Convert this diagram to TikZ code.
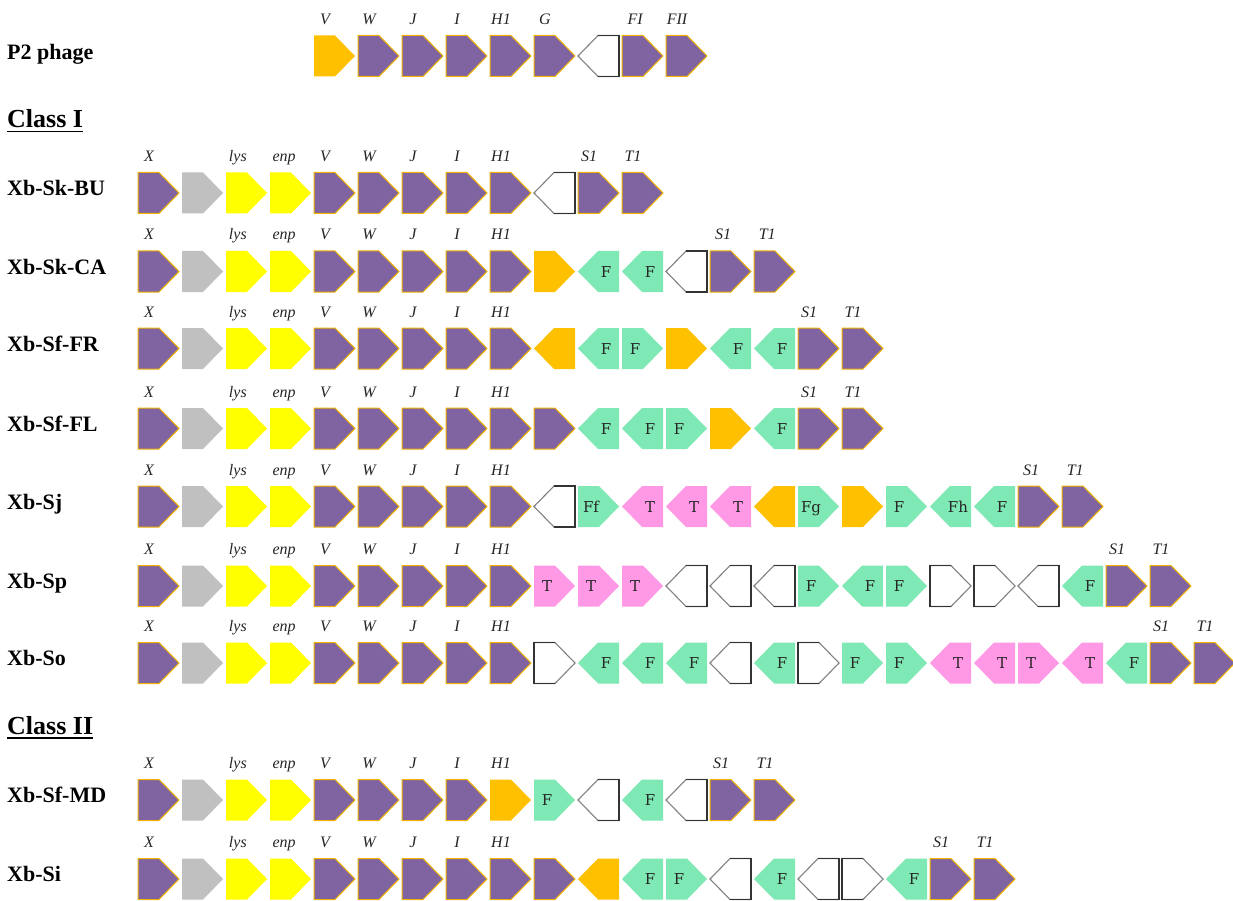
\documentclass[tikz,border=0pt]{standalone}
\usepackage{fontspec}
\setmainfont{Liberation Serif}
\newfontfamily\boxfont{DejaVu Serif}
\definecolor{cPu}{HTML}{8064A2}
\definecolor{cOr}{HTML}{FFC000}
\definecolor{cEdge}{HTML}{F2B300}
\definecolor{cGy}{HTML}{C0C0C0}
\definecolor{cYe}{HTML}{FFFF00}
\definecolor{cGn}{HTML}{7FE9B5}
\definecolor{cPk}{HTML}{FF99E6}
\definecolor{cWg}{HTML}{808080}
\definecolor{cWd}{HTML}{333333}
\tikzset{
  pur/.style={fill=cPu, draw=cEdge, line width=1pt},
  ora/.style={fill=cOr},
  gry/.style={fill=cGy},
  yel/.style={fill=cYe},
  grn/.style={fill=cGn},
  pnk/.style={fill=cPk},
  wht/.style={fill=white, draw=cWg, line width=1.1pt},
  wdark/.style={draw=cWd, line width=1.1pt},
  intext/.style={font=\boxfont\fontsize{15}{15}\selectfont, text=black!85, anchor=base, inner sep=0pt},
  genelab/.style={font=\itshape\fontsize{16}{16}\selectfont, anchor=base, inner sep=0pt, text=black!85},
  rowlab/.style={font=\bfseries\fontsize{22}{22}\selectfont, anchor=base west, inner sep=0pt},
  classlab/.style={font=\bfseries\fontsize{26}{26}\selectfont, anchor=base west, inner sep=0pt},
}
\newcommand\gpset[1]{\pgfmathsetmacro\gpos{138+44*#1}}
\newcommand\gR[3]{\gpset{#2}\path[#3] (\gpos,#1-20.5) -- ++(21,0) -- ++(20,20.5) -- ++(-20,20.5) -- ++(-21,0) -- cycle;}
\newcommand\gL[3]{\gpset{#2}\path[#3] (\gpos+41,#1-20.5) -- ++(-21,0) -- ++(-20,20.5) -- ++(20,20.5) -- ++(21,0) -- cycle;}
\newcommand\wR[2]{\gR{#1}{#2}{wht}\gpset{#2}\path[wdark] (\gpos+21,#1-20.5) -- (\gpos,#1-20.5) -- (\gpos,#1+20.5) -- (\gpos+21,#1+20.5);}
\newcommand\wL[2]{\gL{#1}{#2}{wht}\gpset{#2}\path[wdark] (\gpos+20,#1-20.5) -- (\gpos+41,#1-20.5) -- (\gpos+41,#1+20.5) -- (\gpos+20,#1+20.5);}
\newcommand\tR[3]{\gpset{#2}\node[intext] at (\gpos+13,#1+5.5) {#3};}
\newcommand\tL[3]{\gpset{#2}\node[intext] at (\gpos+28,#1+5.5) {#3};}
\newcommand\lb[3]{\gpset{#2}\node[genelab] at (\gpos+11,#1-31.5) {#3};}
\newcommand\prefix[2]{%
  \gR{#1}{0}{pur}\gR{#1}{1}{gry}\gR{#1}{2}{yel}\gR{#1}{3}{yel}%
  \gR{#1}{4}{pur}\gR{#1}{5}{pur}\gR{#1}{6}{pur}\gR{#1}{7}{pur}\gR{#1}{8}{#2}%
  \lb{#1}{0}{X}\lb{#1}{2.02}{lys}\lb{#1}{3.07}{enp}\lb{#1}{4}{V}\lb{#1}{5}{W}%
  \lb{#1}{6}{J}\lb{#1}{7}{I}\lb{#1}{8}{H1}}
\begin{document}
\begin{tikzpicture}[x=1pt,y=-1pt]
\useasboundingbox (0,0) rectangle (1233,901);
\fill[white] (0,0) rectangle (1233,901);

% P2 phage
\node[rowlab] (p2) at (7,60) {P2 phage};
\gR{56}{4}{ora}\gR{56}{5}{pur}\gR{56}{6}{pur}\gR{56}{7}{pur}\gR{56}{8}{pur}\gR{56}{9}{pur}
\wL{56}{10}\gR{56}{11}{pur}\gR{56}{12}{pur}
\lb{56}{4}{V}\lb{56}{5}{W}\lb{56}{6}{J}\lb{56}{7}{I}\lb{56}{8}{H1}\lb{56}{9}{G}\lb{56}{11.05}{FI}\lb{56}{12}{FII}

% Class I
\node[classlab] (c1) at (7,128) {Class I};
\draw[line width=1.8pt] ([yshift=-3.5pt]c1.base west) -- ([yshift=-3.5pt]c1.base east);

% Xb-Sk-BU
\node[rowlab] (bu) at (7,195.5) {Xb-Sk-BU};
\prefix{193}{pur}
\wL{193}{9}\gR{193}{10}{pur}\gR{193}{11}{pur}
\lb{193}{10}{S1}\lb{193}{11}{T1}

% Xb-Sk-CA
\node[rowlab] (ca) at (7,274) {Xb-Sk-CA};
\prefix{271.5}{pur}
\gR{271.5}{9}{ora}\gL{271.5}{10}{grn}\tL{271.5}{10}{F}\gL{271.5}{11}{grn}\tL{271.5}{11}{F}
\wL{271.5}{12}\gR{271.5}{13}{pur}\gR{271.5}{14}{pur}
\lb{271.5}{13.05}{S1}\lb{271.5}{14.05}{T1}

% Xb-Sf-FR
\node[rowlab] (fr) at (7,351) {Xb-Sf-FR};
\prefix{348.5}{pur}
\gL{348.5}{9}{ora}\gL{348.5}{10}{grn}\tL{348.5}{10}{F}\gR{348.5}{11}{grn}\tR{348.5}{11}{F}
\gR{348.5}{12}{ora}\gL{348.5}{13}{grn}\tL{348.5}{13}{F}\gL{348.5}{14}{grn}\tL{348.5}{14}{F}
\gR{348.5}{15}{pur}\gR{348.5}{16}{pur}
\lb{348.5}{15}{S1}\lb{348.5}{16}{T1}

% Xb-Sf-FL
\node[rowlab] (fl) at (7,431) {Xb-Sf-FL};
\prefix{428.5}{pur}
\gR{428.5}{9}{pur}\gL{428.5}{10}{grn}\tL{428.5}{10}{F}\gL{428.5}{11}{grn}\tL{428.5}{11}{F}
\gR{428.5}{12}{grn}\tR{428.5}{12}{F}\gR{428.5}{13}{ora}\gL{428.5}{14}{grn}\tL{428.5}{14}{F}
\gR{428.5}{15}{pur}\gR{428.5}{16}{pur}
\lb{428.5}{15}{S1}\lb{428.5}{16}{T1}

% Xb-Sj
\node[rowlab] (sj) at (7,509) {Xb-Sj};
\prefix{506.5}{pur}
\wL{506.5}{9}\gR{506.5}{10}{grn}\tR{506.5}{10}{Ff}
\gL{506.5}{11}{pnk}\tL{506.5}{11}{T}\gL{506.5}{12}{pnk}\tL{506.5}{12}{T}\gL{506.5}{13}{pnk}\tL{506.5}{13}{T}
\gL{506.5}{14}{ora}\gR{506.5}{15}{grn}\tR{506.5}{15}{Fg}\gR{506.5}{16}{ora}
\gR{506.5}{17}{grn}\tR{506.5}{17}{F}\gL{506.5}{18}{grn}\tL{506.5}{18}{Fh}\gL{506.5}{19}{grn}\tL{506.5}{19}{F}
\gR{506.5}{20}{pur}\gR{506.5}{21}{pur}
\lb{506.5}{20.05}{S1}\lb{506.5}{21.05}{T1}

% Xb-Sp
\node[rowlab] (sp) at (7,588.5) {Xb-Sp};
\prefix{586}{pur}
\gR{586}{9}{pnk}\tR{586}{9}{T}\gR{586}{10}{pnk}\tR{586}{10}{T}\gR{586}{11}{pnk}\tR{586}{11}{T}
\wL{586}{12}\wL{586}{13}\wL{586}{14}
\gR{586}{15}{grn}\tR{586}{15}{F}\gL{586}{16}{grn}\tL{586}{16}{F}\gR{586}{17}{grn}\tR{586}{17}{F}
\wR{586}{18}\wR{586}{19}\wL{586}{20}
\gL{586}{21}{grn}\tL{586}{21}{F}\gR{586}{22}{pur}\gR{586}{23}{pur}
\lb{586}{22}{S1}\lb{586}{23}{T1}

% Xb-So
\node[rowlab] (so) at (7,665.5) {Xb-So};
\prefix{663}{pur}
\wR{663}{9}\gL{663}{10}{grn}\tL{663}{10}{F}\gL{663}{11}{grn}\tL{663}{11}{F}\gL{663}{12}{grn}\tL{663}{12}{F}
\wL{663}{13}\gL{663}{14}{grn}\tL{663}{14}{F}\wR{663}{15}
\gR{663}{16}{grn}\tR{663}{16}{F}\gR{663}{17}{grn}\tR{663}{17}{F}
\gL{663}{18}{pnk}\tL{663}{18}{T}\gL{663}{19}{pnk}\tL{663}{19}{T}\gR{663}{20}{pnk}\tR{663}{20}{T}\gL{663}{21}{pnk}\tL{663}{21}{T}
\gL{663}{22}{grn}\tL{663}{22}{F}\gR{663}{23}{pur}\gR{663}{24}{pur}
\lb{663}{23}{S1}\lb{663}{24}{T1}

% Class II
\node[classlab] (c2) at (7,734.5) {Class II};
\draw[line width=1.8pt] ([yshift=-3.5pt]c2.base west) -- ([yshift=-3.5pt]c2.base east);

% Xb-Sf-MD
\node[rowlab] (md) at (7,802.5) {Xb-Sf-MD};
\prefix{800}{ora}
\gR{800}{9}{grn}\tR{800}{9}{F}\wL{800}{10}\gL{800}{11}{grn}\tL{800}{11}{F}\wL{800}{12}
\gR{800}{13}{pur}\gR{800}{14}{pur}
\lb{800}{13}{S1}\lb{800}{14}{T1}

% Xb-Si
\node[rowlab] (si) at (7,881.5) {Xb-Si};
\prefix{879}{pur}
\gR{879}{9}{pur}\gL{879}{10}{ora}\gL{879}{11}{grn}\tL{879}{11}{F}\gR{879}{12}{grn}\tR{879}{12}{F}
\wL{879}{13}\gL{879}{14}{grn}\tL{879}{14}{F}\wL{879}{15}\wR{879}{16}
\gL{879}{17}{grn}\tL{879}{17}{F}\gR{879}{18}{pur}\gR{879}{19}{pur}
\lb{879}{18}{S1}\lb{879}{19}{T1}
\end{tikzpicture}
\end{document}
